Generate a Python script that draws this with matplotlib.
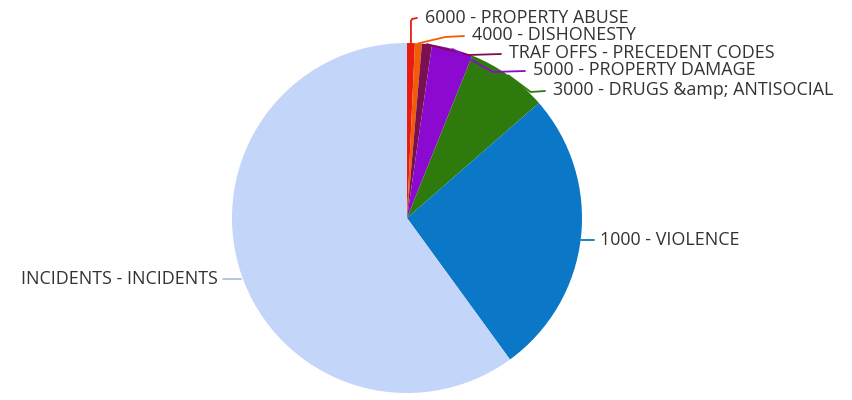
import numpy as np
import matplotlib.pyplot as plt

# Данные
categories = ['6000 - PROPERTY ABUSE', '4000 - DISHONESTY', 'TRAF OFFS - PRECEDENT CODES',
              '5000 - PROPERTY DAMAGE', '3000 - DRUGS &amp; ANTISOCIAL', '1000 - VIOLENCE',
              'INCIDENTS - INCIDENTS']
values = [0.72, 0.64, 0.92, 3.8, 7.5, 26.4, 60.0]
colors = ['#e81b10', '#f25c05', '#7b1050', '#8c0ad0', '#2e7a0c', '#0a78c6', '#c3d5f8']

# позиции подписей (в пикселях, y сверху)
label_pos = [(425, 18), (472, 35), (509, 53), (533, 70), (553, 90), (600, 240), (218, 279)]

cx, cy, r = 407, 400 - 218, 175

plt.rcParams['font.family'] = ['Open Sans', 'DejaVu Sans']
fig = plt.figure(figsize=(8.52, 4), dpi=100)
ax = fig.add_axes([0, 0, 1, 1])

wedges, _ = ax.pie(values, colors=colors, startangle=90, counterclock=False,
                   center=(cx, cy), radius=r, frame=True,
                   wedgeprops=dict(linewidth=0))
ax.set_xlim(0, 852)
ax.set_ylim(0, 400)
ax.set_aspect('equal')
ax.axis('off')

for i, w in enumerate(wedges):
    ang = np.deg2rad((w.theta1 + w.theta2) / 2)
    ex, ey = cx + r * np.cos(ang), cy + r * np.sin(ang)
    tx, ty = label_pos[i]
    ty = 400 - ty
    ha = 'right' if tx < cx else 'left'
    col = '#aebfdf' if i == 6 else colors[i]
    if i == 0:
        xs = [ex, ex, ex + 1, ex + 6]
        ys = [ey, ty - 3, ty - 1, ty]
    elif i < 5:
        xs = [ex, (ex + tx) / 2, tx - 8]
        ys = [ey, ty - 2, ty - 1]
    elif i == 5:
        xs = [ex, tx - 6]
        ys = [ty, ty]
    else:
        xs = [tx + 5, ex]
        ys = [ty, ty]
    ax.plot(xs, ys, color=col, lw=1.3, solid_capstyle='round')
    ax.text(tx, ty, categories[i], ha=ha, va='center', fontsize=12.9, color='#333333')

fig.savefig('out.png', dpi=100)
